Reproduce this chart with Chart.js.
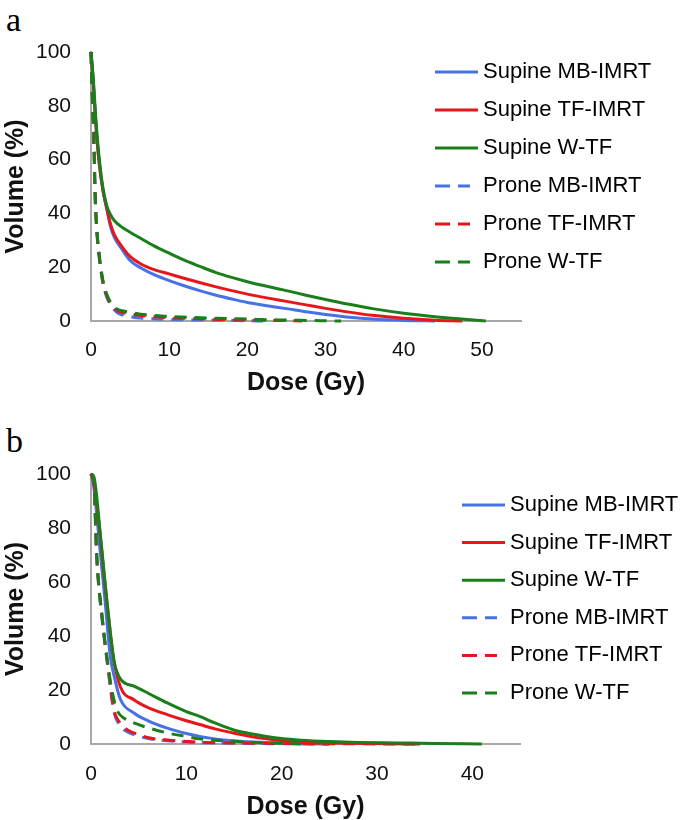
<!DOCTYPE html>
<html><head><meta charset="utf-8">
<script src="https://cdn.jsdelivr.net/npm/chart.js@4.4.1/dist/chart.umd.min.js"></script>
<style>
html,body{margin:0;padding:0;background:#fff}
body{width:685px;height:820px;position:relative;overflow:hidden}
.panel{position:absolute;left:0;width:685px;height:410px}
.lbl{position:absolute;font-family:"Liberation Serif",serif;font-size:34px;line-height:34px;color:#000}
</style></head>
<body>
<div class="lbl" style="left:6px;top:3px">a</div>
<div class="lbl" style="left:6px;top:424px">b</div>
<div class="panel" style="top:0"><canvas id="ca" width="685" height="410"></canvas></div>
<div class="panel" style="top:410px"><canvas id="cb" width="685" height="410"></canvas></div>
<script>
// ---- labels ----
const seriesNames = ["Supine MB-IMRT","Supine TF-IMRT","Supine W-TF","Prone MB-IMRT","Prone TF-IMRT","Prone W-TF"];
const xTitle = "Dose (Gy)";
const yTitle = "Volume (%)";
const yTicks = [0,20,40,60,80,100];
const xTicksA = [0,10,20,30,40,50];
const xTicksB = [0,10,20,30,40];

// ---- panel a ----
const doseA_supMB = [0,0.3,0.6,1,1.5,2,2.5,3,4,5,6.5,8,10,12,14,16,18,20,22.5,25,27.5,30,33,36,40,44];
const volA_supMB  = [100,88,74,60,49,42,35,31,26.5,22.5,19.5,17.3,15,13,11.2,9.6,8.2,6.9,5.7,4.6,3.4,2.4,1.4,0.7,0.2,0];
const doseA_supTF = [0,0.3,0.6,1,1.5,2,2.5,3,4,5,6.5,8,10,12,14,16,18,20,22.5,25,27.5,30,33,36,40,44,47.5];
const volA_supTF  = [100,88,74,60,49,42,36,32,27.5,24,21,19.2,17.5,15.8,14.2,12.7,11.3,10,8.6,7.3,6,4.7,3.3,2.1,1,0.3,0];
const doseA_supWTF = [0,0.3,0.6,1,1.5,2,2.5,3,4,5,6.5,8,10,12,14,16,18,20,22.5,25,27.5,30,33,36,40,44,47,50.5];
const volA_supWTF  = [100,90,76,62,50,43,39.5,37.3,34.8,33,30.5,28,25.2,22.5,20.2,18,16.2,14.6,12.9,11.3,9.6,8,6.2,4.6,2.9,1.6,0.8,0];
const doseA_proMB = [0,0.15,0.34,0.55,0.75,1,1.3,1.6,2,2.5,3.3,4,5,7,10,13,16,20,22];
const volA_proMB  = [100,85,70,45,33,25,18,13,9,6,3.2,2.3,1.6,1,0.6,0.4,0.3,0.1,0];
const doseA_proTF = [0,0.15,0.34,0.55,0.75,1,1.3,1.6,2,2.5,3.3,4,5,7,10,13,16,20,24,27];
const volA_proTF  = [100,85,70,45,33.5,25.5,18.5,13.5,9.5,6.5,4,3.2,2.6,1.8,1.2,0.9,0.6,0.4,0.2,0];
const doseA_proWTF = [0,0.15,0.34,0.55,0.75,1,1.3,1.6,2,2.5,3.3,4,5,7,10,13,16,20,24,28,32];
const volA_proWTF  = [100,85,70,45,34,26,19,14,10,7,4.5,3.8,3.2,2.3,1.7,1.3,1,0.7,0.4,0.2,0];

// ---- panel b ----
const doseB_supMB = [0,0.3,1,1.5,2,2.5,3.1,4.5,6,8,10,11.4,13,14.9,17,20,25];
const volB_supMB  = [100,95,70,52,33,24,16.4,11.5,8.6,5.9,3.9,2.8,1.9,1.2,0.7,0.3,0];
const doseB_supTF = [0,0.3,0.8,1.5,2,2.4,3.1,4.5,6,8,10,11.4,13,14.9,16.5,18.4,20,22,25,30,34.5];
const volB_supTF  = [100,97,83,58,42,31,21,16.4,13.5,10.9,8.6,7.2,5.6,4.1,3,1.9,1.2,0.6,0.35,0.15,0];
const doseB_supWTF = [0,0.3,1,1.7,2.4,3.1,4.5,6,8,10,11.4,13,14.9,16.5,18.4,20,22,25,28,32,36,41];
const volB_supWTF  = [100,99,77,52,31,24,21.4,18.8,15.2,12,10.2,7.8,5.3,4,2.8,2,1.4,0.9,0.6,0.4,0.2,0];
const doseB_proMB = [0,0.3,0.6,1.2,1.85,2.4,3,3.8,4.5,6,8,10,13,17,25];
const volB_proMB  = [100,96,69,45,26,12,7,4.5,3.5,2,1.2,0.7,0.4,0.2,0];
const doseB_proTF = [0,0.3,0.6,1.2,1.85,2.4,3,3.8,5,6.2,8,9.7,12,15,20,25,34];
const volB_proTF  = [100,97,70,46,27,12.7,8,5.3,3.5,2.2,1.5,1,0.6,0.4,0.2,0.1,0];
const doseB_proWTF = [0,0.3,0.6,1.2,1.85,2.3,2.7,3.5,4.5,6,8,10,11.4,13,14.9,17,20,22];
const volB_proWTF  = [100,98,70,46,27.5,18,12.7,9.5,7.8,6,4.1,2.8,1.9,1.4,1,0.6,0.3,0];

const BLUE = '#4672E6', RED = '#E8151B', GREEN = '#1A7F1A';

function pts(xs, ys){ return xs.map((x,i)=>({x:x, y:ys[i]})); }

function makeDatasets(sets){
  const colors = [BLUE,RED,GREEN,BLUE,RED,GREEN];
  const orders = [6,4,2,5,3,1];
  return sets.map((s,i)=>({
    label: seriesNames[i],
    data: pts(s[0], s[1]),
    borderColor: colors[i],
    backgroundColor: colors[i],
    borderWidth: 3,
    borderDash: i>=3 ? [12,8] : [],
    legendDashed: i>=3,
    pointRadius: 0,
    fill: false,
    cubicInterpolationMode: 'monotone',
    clip: false,
    order: orders[i]
  }));
}

const customLegend = {
  id: 'customLegend',
  afterDraw(chart, args, o){
    const ctx = chart.ctx;
    ctx.save();
    ctx.font = '22px "Liberation Sans", Arial, sans-serif';
    ctx.textBaseline = 'middle';
    ctx.textAlign = 'left';
    chart.data.datasets.forEach((ds,i)=>{
      const y = o.y0 + i*o.dy;
      ctx.beginPath();
      ctx.lineWidth = 3;
      ctx.strokeStyle = ds.borderColor;
      if (ds.legendDashed){ ctx.setLineDash([15,8]); ctx.moveTo(o.x0,y); ctx.lineTo(o.x0+35,y); }
      else { ctx.setLineDash([]); ctx.moveTo(o.x0,y); ctx.lineTo(o.x0+o.len,y); }
      ctx.stroke();
      ctx.setLineDash([]);
      ctx.fillStyle = '#000';
      ctx.fillText(ds.label, o.x0+o.len+o.gap, y);
    });
    ctx.restore();
  }
};

function makeChart(id, sets, xMax, xTicks, pad, xAxisH, tickPad, titlePadB, legend){
  return new Chart(document.getElementById(id), {
    type: 'line',
    data: { datasets: makeDatasets(sets) },
    plugins: [customLegend],
    options: {
      responsive: false,
      animation: false,
      events: [],
      layout: { padding: pad },
      plugins: { legend: {display:false}, tooltip: {enabled:false}, customLegend: legend },
      scales: {
        x: {
          type: 'linear', min: 0, max: xMax,
          grid: { display: false, drawTicks: false },
          border: { display: true, color: '#a8a8a8', width: 2 },
          afterBuildTicks: s => { s.ticks = xTicks.map(v=>({value:v})); },
          afterFit: s => { s.height = xAxisH; },
          ticks: { color: '#111', padding: tickPad, maxRotation: 0, autoSkip: false,
                   font: { family: '"Liberation Sans", Arial, sans-serif', size: 21 } },
          title: { display: true, text: xTitle, color: '#111', padding: {top:0, bottom:titlePadB},
                   font: { family: '"Liberation Sans", Arial, sans-serif', size: 25, weight: 'bold', lineHeight: 1.0 } }
        },
        y: {
          type: 'linear', min: 0, max: 100,
          grid: { display: false, drawTicks: false },
          border: { display: true, color: '#a8a8a8', width: 2 },
          afterBuildTicks: s => { s.ticks = yTicks.map(v=>({value:v})); },
          afterFit: s => { s.width = 91; },
          ticks: { color: '#111', padding: 20,
                   font: { family: '"Liberation Sans", Arial, sans-serif', size: 21 } },
          title: { display: true, text: yTitle, color: '#111', padding: {top:2, bottom:0},
                   font: { family: '"Liberation Sans", Arial, sans-serif', size: 25, weight: 'bold', lineHeight: 1.1 } }
        }
      }
    }
  });
}

makeChart('ca', [
  [doseA_supMB, volA_supMB],[doseA_supTF, volA_supTF],[doseA_supWTF, volA_supWTF],
  [doseA_proMB, volA_proMB],[doseA_proTF, volA_proTF],[doseA_proWTF, volA_proWTF]
], 55, xTicksA, {top:52, right:164, left:0, bottom:10}, 79, 17, 4, {x0:435, len:43, gap:5, y0:72, dy:38});

makeChart('cb', [
  [doseB_supMB, volB_supMB],[doseB_supTF, volB_supTF],[doseB_supWTF, volB_supWTF],
  [doseB_proMB, volB_proMB],[doseB_proTF, volB_proTF],[doseB_proWTF, volB_proWTF]
], 45, xTicksB, {top:64, right:165, left:0, bottom:0}, 76, 18, 0, {x0:462, len:43, gap:5, y0:95, dy:37.6});
</script>
</body></html>
